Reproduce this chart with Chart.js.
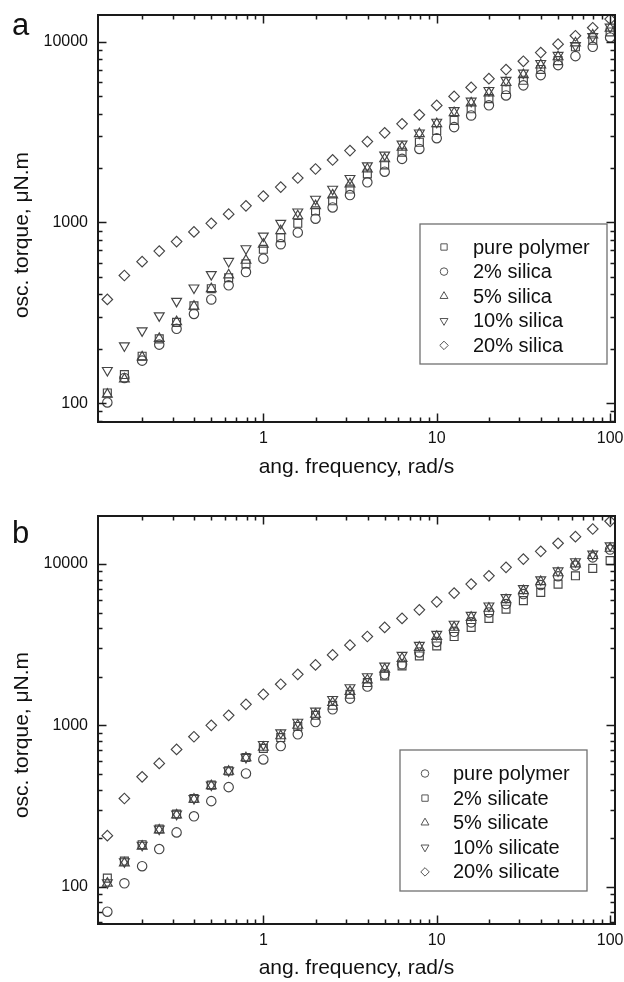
<!DOCTYPE html>
<html>
<head>
<meta charset="utf-8">
<script src="https://cdn.jsdelivr.net/npm/chart.js@4.4.1/dist/chart.umd.min.js"></script>
<style>
body { margin: 0; background: #fff; }
.panel { position: relative; width: 624px; height: 491px; }
canvas { display: block; }
</style>
</head>
<body>
<div class="panel"><canvas id="chartA" width="624" height="491"></canvas></div>
<div class="panel"><canvas id="chartB" width="624" height="491"></canvas></div>
<script>
// Angular frequency, rad/s (10 points per decade)
const freq = [0.126, 0.158, 0.2, 0.251, 0.316, 0.398, 0.501, 0.631, 0.794, 1,
              1.26, 1.58, 2, 2.51, 3.16, 3.98, 5.01, 6.31, 7.94, 10,
              12.6, 15.8, 20, 25.1, 31.6, 39.8, 50.1, 63.1, 79.4, 100];

// Panel a: silica
const labelsA = ['pure polymer', '2% silica', '5% silica', '10% silica', '20% silica'];
const pureA = [114, 144, 182, 227, 280, 346, 430, 495, 590, 711,
               825, 990, 1160, 1318, 1531, 1856, 2082, 2450, 2780, 3228,
               3670, 4260, 4847, 5440, 6126, 7030, 7870, 9380, 10200, 11340];
const silica2 = [101, 138, 172, 211, 258, 312, 375, 449, 532, 631,
                 758, 880, 1050, 1212, 1418, 1668, 1911, 2249, 2553, 2928,
                 3372, 3910, 4450, 5050, 5740, 6540, 7430, 8330, 9380, 10570];
const silica5 = [112, 136, 180, 228, 282, 344, 430, 512, 617, 758,
                 898, 1088, 1237, 1418, 1632, 1977, 2249, 2610, 3098, 3516,
                 4050, 4580, 5205, 5950, 6570, 7430, 8250, 9850, 10880, 11880];
const silica10 = [152, 208, 252, 305, 367, 435, 516, 610, 717, 843,
                  991, 1146, 1347, 1531, 1756, 2062, 2365, 2720, 3134, 3594,
                  4168, 4700, 5385, 6126, 6720, 7598, 8420, 9536, 10700, 12090];
const silica20 = [375, 509, 607, 695, 784, 887, 990, 1112, 1237, 1400,
                  1571, 1763, 1977, 2218, 2500, 2803, 3134, 3516, 3946, 4443,
                  4986, 5594, 6254, 7020, 7803, 8718, 9700, 10800, 11960, 13350];

// Panel b: silicate
const labelsB = ['pure polymer', '2% silicate', '5% silicate', '10% silicate', '20% silicate'];
const pureB = [70, 105, 134, 171, 217, 273, 339, 414, 503, 615,
               744, 880, 1048, 1257, 1465, 1740, 2072, 2393, 2832, 3290,
               3800, 4350, 5010, 5645, 6514, 7408, 8390, 9780, 11000, 12300];
const silicate2 = [113, 144, 182, 228, 282, 352, 426, 522, 632, 720,
                   840, 985, 1154, 1331, 1558, 1842, 2024, 2336, 2693, 3107,
                   3555, 4045, 4600, 5250, 5930, 6670, 7510, 8450, 9400, 10500];
const silicate5 = [105, 140, 178, 224, 278, 348, 422, 518, 628, 730,
                   860, 1000, 1170, 1383, 1620, 1911, 2228, 2596, 3040, 3555,
                   4045, 4665, 5310, 6004, 6820, 7770, 8810, 10000, 11270, 12500];
const silicate10 = [106, 143, 181, 228, 282, 353, 428, 524, 634, 762,
                    900, 1048, 1227, 1450, 1715, 2006, 2336, 2721, 3139, 3673,
                    4240, 4820, 5506, 6210, 7060, 8000, 9083, 10350, 11540, 13000];
const silicate20 = [207, 352, 480, 581, 709, 850, 1000, 1154, 1350, 1558,
                    1798, 2073, 2370, 2733, 3140, 3555, 4044, 4600, 5200, 5834,
                    6606, 7509, 8454, 9546, 10740, 11990, 13450, 14780, 16490, 18410];

// Tick labels
const xTicks = [1, 10, 100];
const yTicks = [100, 1000, 10000];

const X_TITLE = 'ang. frequency, rad/s';
const Y_TITLE = 'osc. torque, \u03bcN.m';

const FONT = "'Liberation Sans', Arial, Helvetica, sans-serif";
const INK = '#444';
Chart.defaults.font.family = FONT;

// marker styles
const SQUARE = { pointStyle: 'rect', radius: 5.6, rotation: 0 };
const CIRCLE = { pointStyle: 'circle', radius: 4.7, rotation: 0 };
const UP = { pointStyle: 'triangle', radius: 5.7, rotation: 0 };
const DOWN = { pointStyle: 'triangle', radius: 5.7, rotation: 180 };
const DIAMOND = { pointStyle: 'rectRot', radius: 5.3, rotation: 0 };

function toPoints(vals) {
    return freq.map((f, i) => ({ x: f, y: vals[i] }));
}

function makeDataset(label, vals, st) {
    return {
        label,
        data: toPoints(vals),
        showLine: false,
        pointStyle: st.pointStyle,
        pointRadius: st.radius,
        pointRotation: st.rotation,
        pointBorderColor: INK,
        pointBackgroundColor: 'rgba(0,0,0,0)',
        pointBorderWidth: 1.15,
        pointHoverRadius: st.radius
    };
}

// --- cadre, graduations internes, légende, titres ---
const decorPlugin = {
    id: 'decor',
    afterDatasetsDraw(chart, args, o) {
        const { ctx, chartArea: a, scales: { x, y } } = chart;
        ctx.save();
        ctx.strokeStyle = '#1a1a1a';
        ctx.lineWidth = 1.5;
        const ticks = (scale, horiz) => {
            const lo = Math.floor(Math.log10(scale.min));
            const hi = Math.ceil(Math.log10(scale.max));
            for (let p = lo; p <= hi; p++) {
                for (let m = 1; m < 10; m++) {
                    const v = m * Math.pow(10, p);
                    if (v < scale.min || v > scale.max) continue;
                    const len = m === 1 ? 8.5 : 4.5;
                    const px = Math.round(scale.getPixelForValue(v)) + 0.5;
                    ctx.beginPath();
                    if (horiz) {
                        ctx.moveTo(px, a.bottom); ctx.lineTo(px, a.bottom - len);
                        ctx.moveTo(px, a.top); ctx.lineTo(px, a.top + len);
                    } else {
                        ctx.moveTo(a.left, px); ctx.lineTo(a.left + len, px);
                        ctx.moveTo(a.right, px); ctx.lineTo(a.right - len, px);
                    }
                    ctx.stroke();
                }
            }
        };
        ticks(x, true);
        ticks(y, false);
        ctx.lineWidth = 2;
        ctx.strokeRect(a.left, a.top, a.width, a.height);

        // legend
        const L = o.legend;
        ctx.fillStyle = '#fff';
        ctx.fillRect(L.x, L.y, L.w, L.h);
        ctx.strokeStyle = '#707070';
        ctx.lineWidth = 1.3;
        ctx.strokeRect(L.x, L.y, L.w, L.h);
        ctx.font = '20px ' + FONT;
        ctx.textBaseline = 'middle';
        ctx.textAlign = 'left';
        chart.data.datasets.forEach((ds, i) => {
            const ry = L.row0 + i * L.step;
            ctx.strokeStyle = '#555';
            ctx.fillStyle = 'rgba(0,0,0,0)';
            ctx.lineWidth = 1;
            Chart.helpers.drawPoint(ctx, {
                pointStyle: ds.pointStyle,
                radius: ds.pointRadius * 0.8,
                rotation: ds.pointRotation,
                borderWidth: 1
            }, L.symX, ry);
            ctx.fillStyle = '#111';
            ctx.fillText(ds.label, L.textX, ry + 1);
        });

        // titles
        ctx.fillStyle = '#111';
        ctx.font = '21px ' + FONT;
        ctx.textAlign = 'center';
        ctx.fillText(X_TITLE, (a.left + a.right) / 2, o.xTitleY);
        ctx.save();
        ctx.translate(22, o.yTitleY);
        ctx.rotate(-Math.PI / 2);
        ctx.fillText(Y_TITLE, 0, 0);
        ctx.restore();

        // panel letter
        ctx.font = '31px ' + FONT;
        ctx.textAlign = 'left';
        ctx.textBaseline = 'alphabetic';
        ctx.fillText(o.letter, 12, o.letterY);
        ctx.restore();
    }
};

function makeChart(id, labels, series, styles, yMin, yMax, padTop, xAxisH, decor) {
    return new Chart(document.getElementById(id), {
        type: 'scatter',
        data: { datasets: series.map((s, i) => makeDataset(labels[i], s, styles[i])) },
        options: {
            responsive: false,
            animation: false,
            events: [],
            layout: { padding: { left: 0, right: 9, top: padTop, bottom: 0 } },
            plugins: {
                legend: { display: false },
                tooltip: { enabled: false },
                decor
            },
            scales: {
                x: {
                    type: 'logarithmic',
                    min: 0.1113,
                    max: 106.7,
                    grid: { display: false, drawTicks: false },
                    border: { display: false },
                    afterBuildTicks: (s) => { s.ticks = xTicks.map(v => ({ value: v })); },
                    afterFit: (s) => { s.height = xAxisH; s.paddingLeft = 0; s.paddingRight = 0; },
                    ticks: {
                        autoSkip: false, maxRotation: 0, padding: 7,
                        color: '#111', font: { size: 16 },
                        callback: (v) => String(v)
                    }
                },
                y: {
                    type: 'logarithmic',
                    min: yMin,
                    max: yMax,
                    grid: { display: false, drawTicks: false },
                    border: { display: false },
                    afterBuildTicks: (s) => { s.ticks = yTicks.map(v => ({ value: v })); },
                    afterFit: (s) => { s.width = 98; s.paddingTop = 0; s.paddingBottom = 0; },
                    ticks: {
                        autoSkip: false, padding: 10,
                        color: '#111', font: { size: 16 },
                        callback: (v) => String(v)
                    }
                }
            }
        },
        plugins: [decorPlugin]
    });
}

makeChart('chartA', labelsA,
    [pureA, silica2, silica5, silica10, silica20],
    [SQUARE, CIRCLE, UP, DOWN, DIAMOND],
    78.7, 14070, 15, 69,
    {
        legend: { x: 420, y: 224, w: 187, h: 140, symX: 444, textX: 473, row0: 247, step: 24.6 },
        xTitleY: 467, yTitleY: 235, letter: 'a', letterY: 35
    });

makeChart('chartB', labelsB,
    [pureB, silicate2, silicate5, silicate10, silicate20],
    [CIRCLE, SQUARE, UP, DOWN, DIAMOND],
    58.7, 19850, 25, 58,
    {
        legend: { x: 400, y: 259, w: 187, h: 141, symX: 425, textX: 453, row0: 282.5, step: 24.6 },
        xTitleY: 477, yTitleY: 244, letter: 'b', letterY: 52
    });
</script>
</body>
</html>
